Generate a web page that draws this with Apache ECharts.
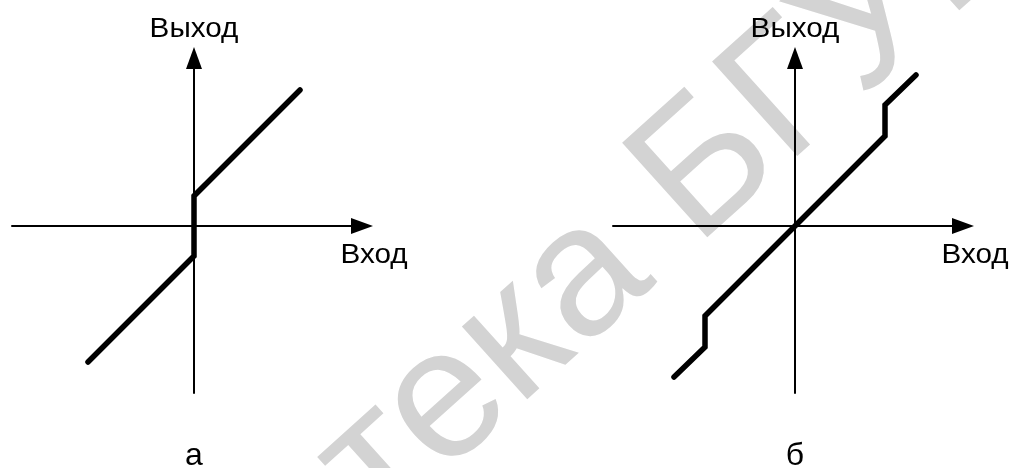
<!DOCTYPE html>
<html>
<head>
<meta charset="utf-8">
<script src="https://cdn.jsdelivr.net/npm/echarts@6/dist/echarts.min.js"></script>
<style>
  html, body { margin: 0; padding: 0; background: #ffffff; }
  #chart { width: 1013px; height: 468px; }
</style>
</head>
<body>
<div id="chart"></div>
<script>
// Transfer characteristics: (а) jump at zero input, (б) linear with steps at ±9
const panelCaptions = ['а', 'б'];
const inputLabel = 'Вход';
const outputLabel = 'Выход';
const curveA = [[-10.6, -13.6], [0, -3], [0, 3], [10.6, 13.6]];
const curveB = [[-12.1, -15.1], [-9, -12.1], [-9, -9], [9, 9], [9, 12.1], [12.1, 15.1]];
const curves = [curveA, curveB];
const xRange = [-18.2, 16.8];
const yRange = [-16.7, 16.8];
const watermarkText = 'Библиотека БГУИР';

const FONT = '"Liberation Sans", Arial, Helvetica, sans-serif';

const chart = echarts.init(document.getElementById('chart'), null, { renderer: 'canvas' });

function axisLineStyle() {
  return {
    show: true,
    onZero: true,
    symbol: ['none', 'triangle'],
    symbolSize: [16, 22],
    lineStyle: { color: '#000000', width: 2 }
  };
}

function makeAxis(i, range) {
  return {
    type: 'value', gridIndex: i, min: range[0], max: range[1],
    axisLine: axisLineStyle(),
    axisTick: { show: false }, axisLabel: { show: false }, splitLine: { show: false }
  };
}

const option = {
  animation: false,
  backgroundColor: '#ffffff',
  grid: [
    { left: 12, top: 58, width: 350, height: 335 },
    { left: 613, top: 58, width: 350, height: 335 }
  ],
  xAxis: [makeAxis(0, xRange), makeAxis(1, xRange)],
  yAxis: [makeAxis(0, yRange), makeAxis(1, yRange)],
  series: curves.map((data, i) => ({
    type: 'line',
    xAxisIndex: i,
    yAxisIndex: i,
    data: data,
    showSymbol: false,
    symbol: 'none',
    z: 5,
    lineStyle: { color: '#000000', width: 5.5, cap: 'round', join: 'miter' }
  }))
};

chart.setOption(option);

function textEl(str, x, y, size, scaleX) {
  return {
    type: 'text',
    x: x,
    y: y,
    scaleX: scaleX,
    silent: true,
    z: 100,
    style: {
      text: str,
      fill: '#000000',
      fontSize: size,
      fontFamily: FONT,
      align: 'center',
      verticalAlign: 'middle',
      textAlign: 'center',
      textVerticalAlign: 'middle'
    }
  };
}

const elements = [];

// watermark, drawn beneath everything else
elements.push({
  type: 'text',
  x: -124,
  y: 917,
  rotation: 42 * Math.PI / 180,
  silent: true,
  z: -10,
  style: {
    text: watermarkText,
    fill: '#d3d3d3',
    fontSize: 185,
    fontFamily: FONT,
    align: 'left',
    verticalAlign: 'middle',
    textAlign: 'left',
    textVerticalAlign: 'middle'
  }
});

[0, 1].forEach(i => {
  const xTip = chart.convertToPixel({ gridIndex: i }, [xRange[1], 0]);
  const yTip = chart.convertToPixel({ gridIndex: i }, [0, yRange[1]]);
  const yBottom = chart.convertToPixel({ gridIndex: i }, [0, yRange[0]]);
  elements.push(textEl(outputLabel, yTip[0], yTip[1] - 28, 27, 1.1));
  elements.push(textEl(inputLabel, xTip[0] + 12, xTip[1] + 30, 27, 1.1));
  elements.push(textEl(panelCaptions[i], yBottom[0], yBottom[1] + 63, 32, 1.0));
});

chart.setOption({ graphic: { elements: elements } });
</script>
</body>
</html>
